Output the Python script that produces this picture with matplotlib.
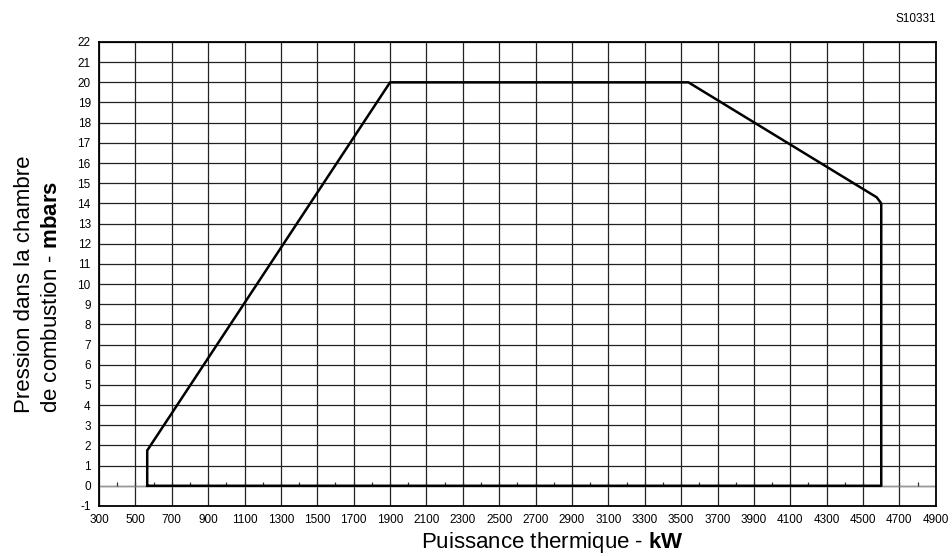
import numpy as np
import matplotlib
matplotlib.use('Agg')
import matplotlib.pyplot as plt

plt.rcParams['font.family'] = ['Liberation Sans', 'DejaVu Sans']
plt.rcParams['mathtext.fontset'] = 'custom'
plt.rcParams['mathtext.rm'] = 'Liberation Sans'
plt.rcParams['mathtext.bf'] = 'Liberation Sans:bold'
plt.rcParams['axes.unicode_minus'] = False

# working field outline (kW, mbar)
power = [565, 565, 1900, 3540, 4575, 4600, 4600, 565]
pressure = [0, 1.75, 20, 20, 14.3, 14, 0, 0]

xticks = list(range(300, 5000, 200))
yticks = list(range(-1, 23))

fig = plt.figure(figsize=(9.52, 5.56), dpi=100)
ax = fig.add_axes([0.104, 0.090, 0.879, 0.8345])

ax.set_xlim(300, 4900)
ax.set_ylim(-1, 22)
ax.set_xticks(xticks)
ax.set_yticks(yticks)
ax.tick_params(length=0, labelsize=8.5, pad=6)
ax.grid(True, color='#222222', linewidth=0.9)
ax.set_axisbelow(True)
for s in ax.spines.values():
    s.set_linewidth(1.3)

# zero line with small minor marks
ax.axhline(0, color='#999999', linewidth=1.0, zorder=2)
ax.vlines(np.arange(400, 4900, 100), 0, 0.2, color='#333333', linewidth=0.9, zorder=2)

ax.plot(power, pressure, color='black', linewidth=1.8, zorder=3)

fig.text(0.58, 0.0135, 'Puissance thermique - $\\mathbf{kW}$', fontsize=16,
         ha='center', va='baseline')
fig.text(0.026, 0.257, 'Pression dans la chambre', rotation=90, fontsize=16,
         ha='center', va='bottom')
fig.text(0.054, 0.257, 'de combustion - $\\mathbf{mbars}$', rotation=90, fontsize=16,
         ha='center', va='bottom')

fig.text(0.983, 0.965, 'S10331', fontsize=8.5, ha='right', va='center')

plt.savefig('out.png', dpi=100)
